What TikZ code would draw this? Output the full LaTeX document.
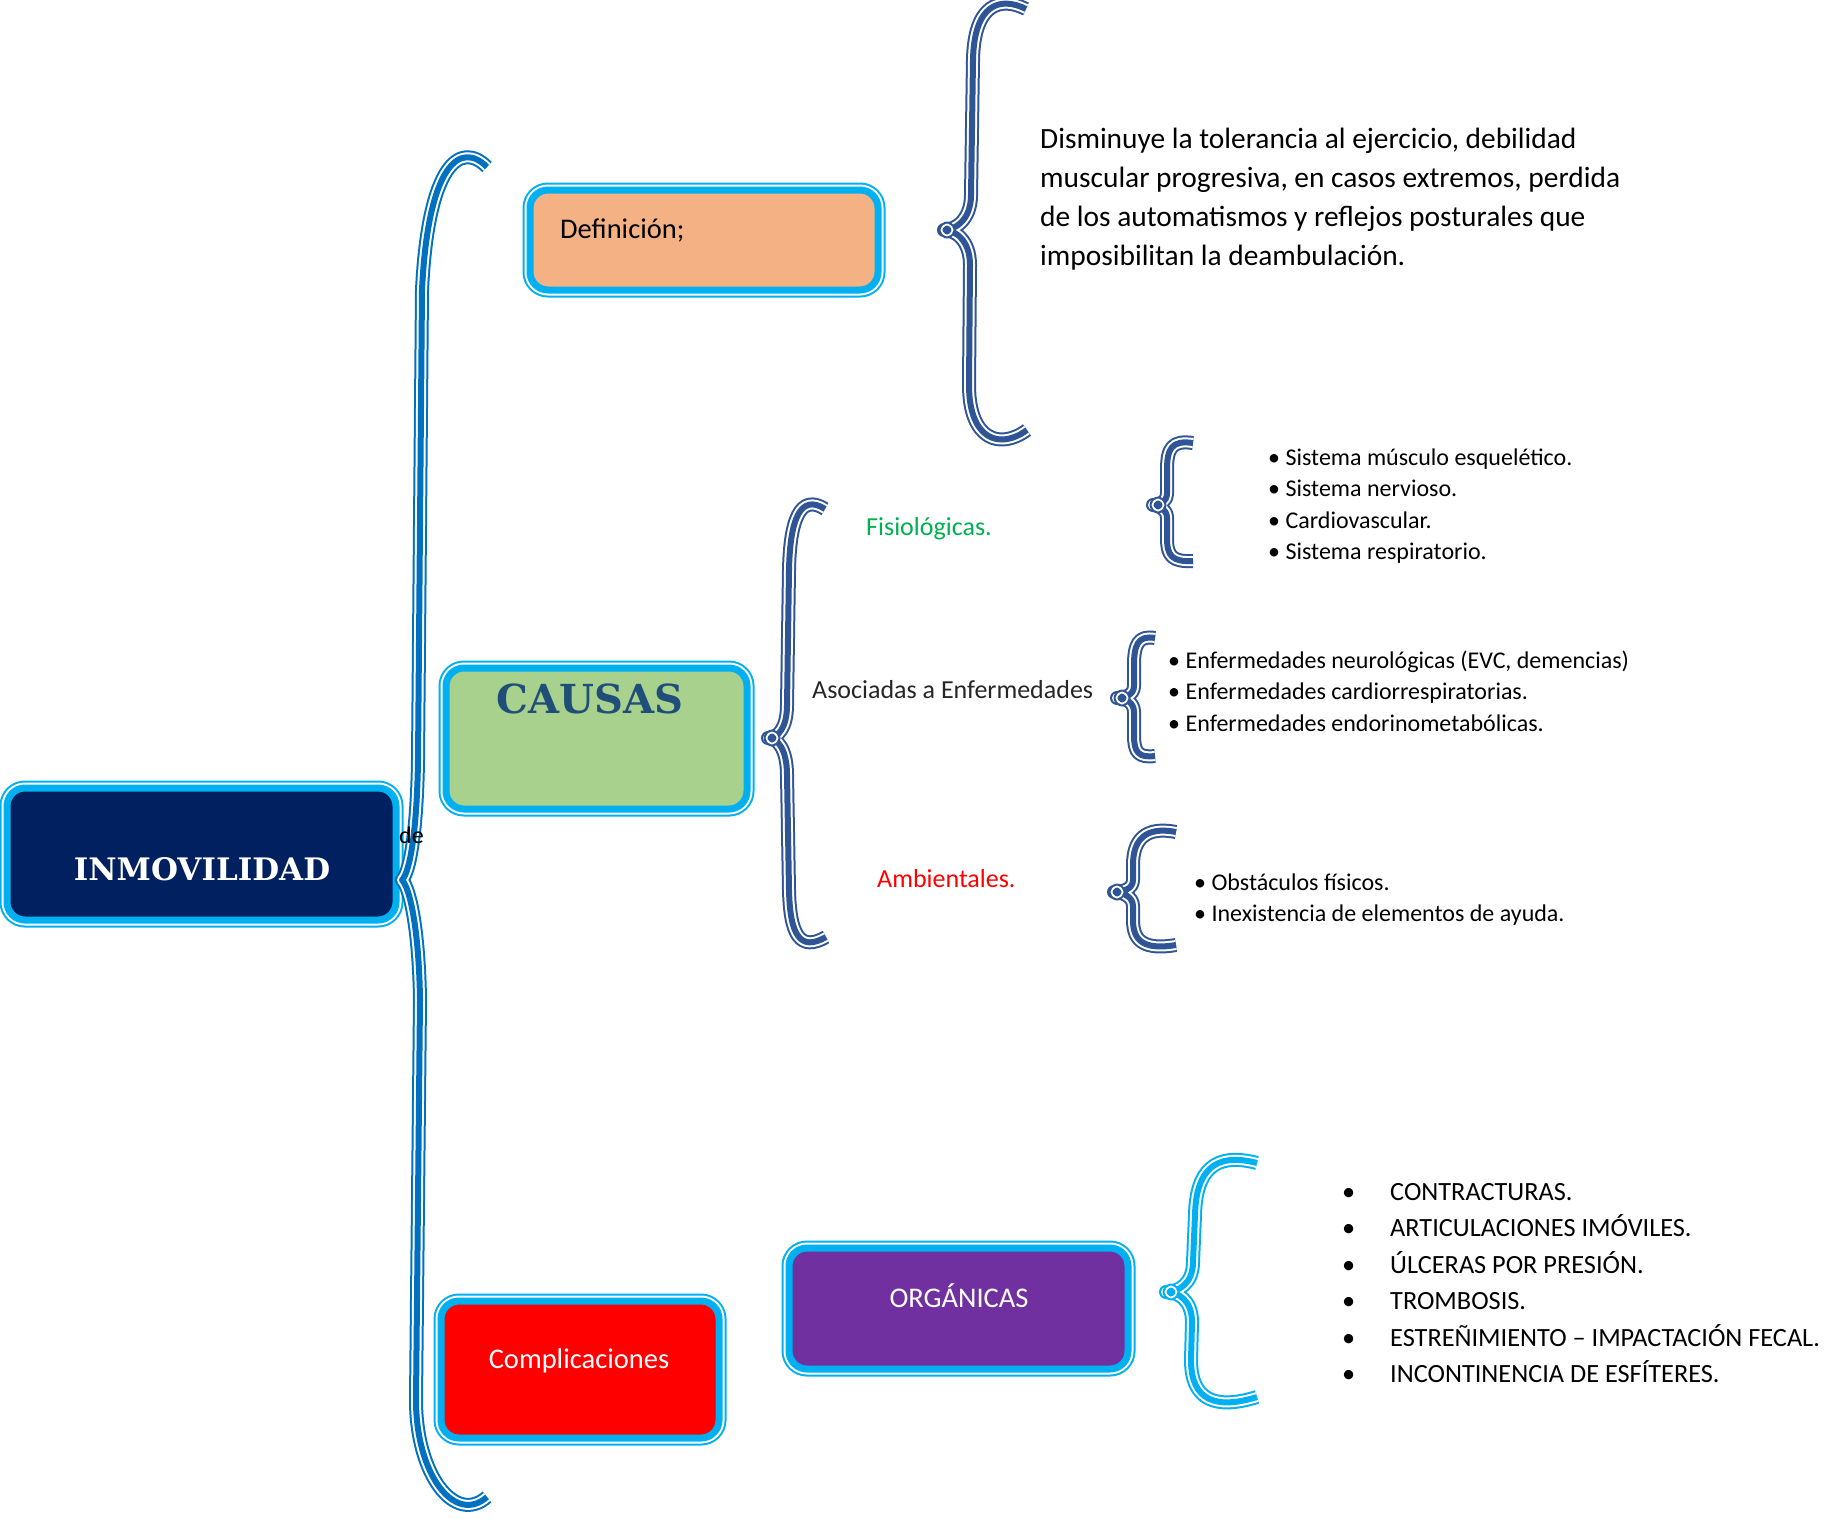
\documentclass[tikz,border=0pt]{standalone}
\usepackage{fontspec}
\setmainfont{Carlito}
\newfontfamily\stencilfont{DejaVu Serif}
\usetikzlibrary{positioning}

\definecolor{boxcyan}{HTML}{00B0F0}
\definecolor{mainblue}{HTML}{0070C0}
\definecolor{darkblue}{HTML}{2F5597}
\definecolor{navy}{HTML}{002060}
\definecolor{peach}{HTML}{F4B183}
\definecolor{leaf}{HTML}{A9D18E}
\definecolor{steel}{HTML}{1F4E79}
\definecolor{violet}{HTML}{7030A0}
\definecolor{fisgreen}{HTML}{00B050}

\begin{document}
\begin{tikzpicture}[x=1pt, y=-1pt,
    box/.style={rectangle, rounded corners=18pt, inner sep=0pt, fill=#1, draw=boxcyan, line width=7pt,
      preaction={draw=boxcyan, line width=15pt}, preaction={draw=white, line width=11pt}},
    brc/.style={draw=#1, line width=14pt, line join=round,
      postaction={draw=white, line width=10pt, line join=round},
      postaction={draw=#1, line width=6pt, line join=round}},
    lbl/.style={inner sep=0pt, anchor=base west}
]
\useasboundingbox (0,0) rectangle (1838,1518);

% Boxes
\node[box=navy, minimum width=389pt, minimum height=132pt] (inmov) at (201.5,854) {};
\node[inner sep=0pt, anchor=base, font=\stencilfont\bfseries\fontsize{31}{31}\selectfont, text=white] (inmovtxt) at (202,880) {INMOVILIDAD};

\node[box=peach, minimum width=348pt, minimum height=100pt] (defbox) at (704,240) {};
\node[lbl, font=\fontsize{28.5}{34}\selectfont] (deftxt) at (560,238) {Definición;};

\node[box=leaf, minimum width=301pt, minimum height=141pt] (causas) at (596.5,738.5) {};
\node[inner sep=0pt, anchor=base, font=\stencilfont\bfseries\fontsize{40}{40}\selectfont, text=steel] (causastxt) at (590,713) {CAUSAS};

\node[box=red, minimum width=278pt, minimum height=137pt] (compl) at (580,1369.5) {};
\node[inner sep=0pt, anchor=base, font=\fontsize{28.5}{34}\selectfont, text=white] (compltxt) at (579,1368) {Complicaciones};

\node[box=violet, minimum width=339pt, minimum height=121pt] (organ) at (958.5,1308.5) {};
\node[inner sep=0pt, anchor=base, font=\fontsize{28.5}{34}\selectfont, text=white] (organtxt) at (959,1307) {ORGÁNICAS};

% Main brace
\draw[brc=mainblue] (487,167) .. controls (460,140) and (428,165) .. (422,290)
  -- (418,760) .. controls (417,830) and (410,872) .. (402,880)
  .. controls (410,888) and (419,930) .. (420,1000)
  -- (416,1400) .. controls (416,1475) and (455,1525) .. (487,1497);

% stray word over the main brace
\node[lbl, font=\fontsize{24}{29}\selectfont] (de) at (399,843) {de};

% Brace for the definition
\draw[brc=darkblue] (1026,9) .. controls (1000,-4) and (974,4) .. (973,60)
  -- (971,195) .. controls (971,220) and (955,230) .. (944,230)
  .. controls (955,230) and (970,240) .. (970,265)
  -- (969,385) .. controls (969,440) and (1000,450) .. (1027,430);
\draw[brc=darkblue] (947,230) circle (1.5);

% Brace for the causes
\draw[brc=darkblue] (825,509) .. controls (800,493) and (790,520) .. (789,570)
  -- (787,705) .. controls (787,728) and (778,738) .. (768,738)
  .. controls (778,738) and (787,750) .. (787,775)
  -- (789,890) .. controls (790,935) and (800,952) .. (826,937);
\draw[brc=darkblue] (772,738) circle (1.5);

% Small braces
\draw[brc=darkblue] (1193,443) .. controls (1172,440) and (1167,448) .. (1167,470)
  -- (1167,493) .. controls (1167,502) and (1160,505) .. (1153,505)
  .. controls (1160,505) and (1167,510) .. (1167,518)
  -- (1167,538) .. controls (1167,556) and (1172,562) .. (1193,561);
\draw[brc=darkblue] (1158,505) circle (1.5);
\draw[brc=darkblue] (1155,638) .. controls (1138,635) and (1134,645) .. (1134,665)
  -- (1134,686) .. controls (1134,695) and (1125,698) .. (1117,698)
  .. controls (1125,698) and (1134,702) .. (1134,712)
  -- (1134,735) .. controls (1134,752) and (1138,758) .. (1155,756);
\draw[brc=darkblue] (1122,698) circle (1.5);
\draw[brc=darkblue] (1176,832) .. controls (1145,826) and (1133,840) .. (1133,865)
  -- (1133,880) .. controls (1133,889) and (1123,892) .. (1114,892)
  .. controls (1123,892) and (1133,897) .. (1133,906)
  -- (1133,920) .. controls (1133,942) and (1145,950) .. (1176,945);
\draw[brc=darkblue] (1117,892) circle (1.5);

% Brace for the complications
\draw[brc=boxcyan] (1257,1163) .. controls (1215,1152) and (1196,1170) .. (1195,1215)
  -- (1193,1262) .. controls (1193,1284) and (1178,1292) .. (1166,1292)
  .. controls (1178,1292) and (1192,1300) .. (1192,1322)
  -- (1191,1360) .. controls (1191,1400) and (1215,1410) .. (1257,1397);
\draw[brc=boxcyan] (1171,1292) circle (1.5);

% Texts
\node[lbl, font=\fontsize{29.4}{39}\selectfont] (deftext) at (1040,148) {\begin{tabular}[t]{@{}l@{}}Disminuye la tolerancia al ejercicio, debilidad\\ muscular progresiva, en casos extremos, perdida\\ de los automatismos y reflejos posturales que\\ imposibilitan la deambulación.\end{tabular}};

\node[lbl, font=\fontsize{26}{31}\selectfont, text=fisgreen] (fisio) at (866,535) {Fisiológicas.};
\node[lbl, font=\fontsize{26}{31}\selectfont, text=black!85] (asoc) at (812,698) {Asociadas a Enfermedades};
\node[lbl, font=\fontsize{26}{31}\selectfont, text=red] (amb) at (877,887) {Ambientales.};

\node[lbl, font=\fontsize{24}{31.6}\selectfont] (fislist) at (1268,465) {\begin{tabular}[t]{@{}l@{}}• Sistema músculo esquelético.\\ • Sistema nervioso.\\ • Cardiovascular.\\ • Sistema respiratorio.\end{tabular}};
\node[lbl, font=\fontsize{24}{31.6}\selectfont] (enflist) at (1168,668) {\begin{tabular}[t]{@{}l@{}}• Enfermedades neurológicas (EVC, demencias)\\ • Enfermedades cardiorrespiratorias.\\ • Enfermedades endorinometabólicas.\end{tabular}};
\node[lbl, font=\fontsize{24}{31}\selectfont] (amblist) at (1194,890) {\begin{tabular}[t]{@{}l@{}}• Obstáculos físicos.\\ • Inexistencia de elementos de ayuda.\end{tabular}};

\node[lbl, font=\fontsize{26.3}{36.5}\selectfont] (orglist) at (1342,1200) {\begin{tabular}[t]{@{}l@{}}\makebox[48pt][l]{•}CONTRACTURAS.\\ \makebox[48pt][l]{•}ARTICULACIONES IMÓVILES.\\ \makebox[48pt][l]{•}ÚLCERAS POR PRESIÓN.\\ \makebox[48pt][l]{•}TROMBOSIS.\\ \makebox[48pt][l]{•}ESTREÑIMIENTO – IMPACTACIÓN FECAL.\\ \makebox[48pt][l]{•}INCONTINENCIA DE ESFÍTERES.\end{tabular}};
\end{tikzpicture}
\end{document}
